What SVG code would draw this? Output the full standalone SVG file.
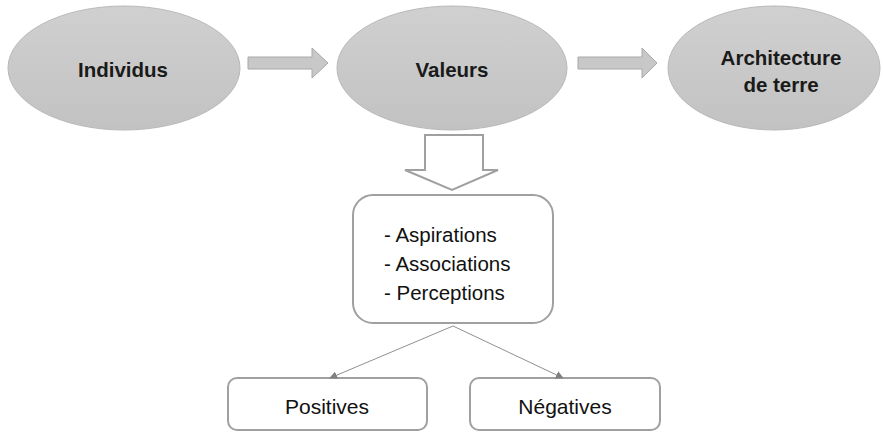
<svg xmlns="http://www.w3.org/2000/svg" width="885" height="432" viewBox="0 0 885 432">
<defs>
<linearGradient id="g" x1="0" y1="0" x2="0" y2="1">
<stop offset="0" stop-color="#d0d0d0"/>
<stop offset="1" stop-color="#c2c2c2"/>
</linearGradient>
<marker id="ah" viewBox="0 0 10 10" refX="9" refY="5" markerWidth="8" markerHeight="8" orient="auto" markerUnits="userSpaceOnUse">
<path d="M0,0 L10,5 L0,10 z" fill="#808080"/>
</marker>
</defs>
<style>
.ell{fill:url(#g);stroke:#b8b8b8;stroke-width:1}
.blk{fill:#c8c8c8;stroke:#a8a8a8;stroke-width:1}
.t{font-family:"Liberation Sans",Arial,sans-serif;font-weight:bold;font-size:20.5px;fill:#1a1a1a;text-anchor:middle}
.box{fill:#fff;stroke:#a0a0a0;stroke-width:2}
.l{font-family:"Liberation Sans",Arial,sans-serif;font-size:20.5px;fill:#111}
.c{font-family:"Liberation Sans",Arial,sans-serif;font-size:21px;fill:#111;text-anchor:middle}
.con{stroke:#909090;stroke-width:1;fill:none}
</style>
<g id="individus"><ellipse class="ell" cx="124" cy="68" rx="116" ry="62"/><text class="t" x="123" y="77">Individus</text></g>
<g id="valeurs"><ellipse class="ell" cx="452" cy="68" rx="115" ry="62"/><text class="t" x="452" y="77">Valeurs</text></g>
<g id="architecture"><ellipse class="ell" cx="774" cy="68" rx="106" ry="62"/><text class="t" x="781" y="65">Architecture</text><text class="t" x="781" y="92">de terre</text></g>
<g id="list"><rect class="box" x="353" y="195" width="200" height="128" rx="20"/>
<text class="l" x="384" y="242">- Aspirations</text>
<text class="l" x="384" y="271">- Associations</text>
<text class="l" x="384" y="300">- Perceptions</text></g>
<g id="positives"><rect class="box" x="228" y="378" width="199" height="52" rx="9"/><text class="c" x="327" y="414">Positives</text></g>
<g id="negatives"><rect class="box" x="470" y="378" width="190" height="52" rx="9"/><text class="c" x="565" y="414">Négatives</text></g>
<g id="connectors">
<path class="blk" d="M248,57 L312,57 L312,48 L328,63 L312,78 L312,69 L248,69 z"/>
<path class="blk" d="M578,57 L642,57 L642,48 L657,63 L642,78 L642,69 L578,69 z"/>
<path d="M425,135 L483,135 L483,170 L498,170 L452,190 L405,170 L425,170 z" fill="#fff" stroke="#a0a0a0" stroke-width="2"/>
<line class="con" x1="453" y1="326" x2="330" y2="378" marker-end="url(#ah)"/>
<line class="con" x1="453" y1="326" x2="563" y2="378" marker-end="url(#ah)"/>
</g>
</svg>
